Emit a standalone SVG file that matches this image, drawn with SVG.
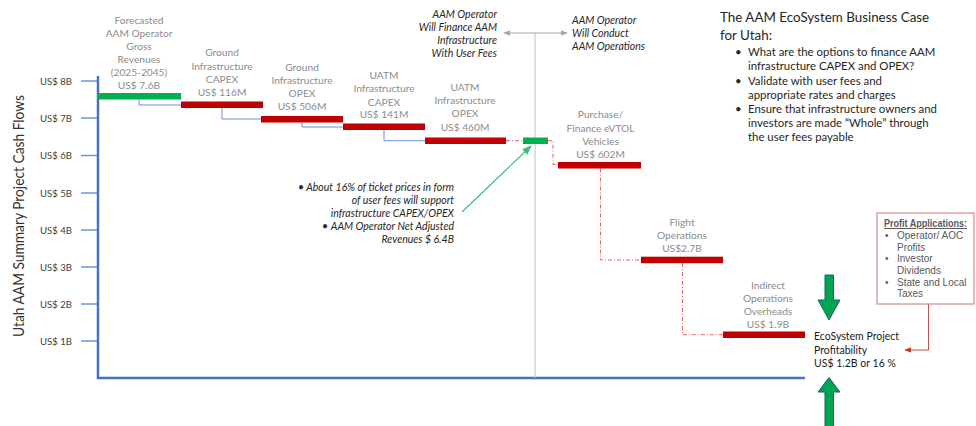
<svg xmlns="http://www.w3.org/2000/svg" width="976" height="426" viewBox="0 0 976 426">
  <style>
    text { font-family: Lato, "Liberation Sans", sans-serif; }
    .lbl { font-size: 10.2px; fill: #8c8c8c; text-anchor: middle; }
    .tick { font-size: 9.6px; fill: #404040; text-anchor: end; }
    .it { font-size: 10.5px; fill: #262626; font-style: italic; }
    .itr { text-anchor: end; }
    .body { font-size: 11.4px; fill: #262626; }
    .head { font-size: 13.4px; fill: #262626; }
    .box { font-family: "Liberation Sans", sans-serif; font-size: 10px; fill: #595959; }
    .red { fill: #c00000; }
    .green { fill: #00b050; }
    .blue-link { fill: none; stroke: #6d8fd0; stroke-width: 1; }
    .red-link { fill: none; stroke: #e06666; stroke-width: 1; stroke-dasharray: 4 2 1 2; }
    .axis { fill: none; stroke: #4472c4; stroke-width: 2.5; }
    .tickline { stroke: #6f94d6; stroke-width: 1.5; }
    .block { fill: #00a551; stroke: #1f5f6e; stroke-width: 1; }
  </style>
  <defs>
    <marker id="grayHead" viewBox="0 0 10 10" refX="9" refY="5" markerWidth="7" markerHeight="7" orient="auto-start-reverse">
      <path d="M0 1 L10 5 L0 9 Z" fill="#a6a6a6"/>
    </marker>
    <marker id="greenHead" viewBox="0 0 10 10" refX="9" refY="5" markerWidth="8" markerHeight="8" orient="auto">
      <path d="M0 1 L10 5 L0 9 Z" fill="#3cbf78"/>
    </marker>
    <marker id="redHead" viewBox="0 0 10 10" refX="9" refY="5" markerWidth="7" markerHeight="7" orient="auto">
      <path d="M0 1 L10 5 L0 9 Z" fill="#c0392b"/>
    </marker>
  </defs>

  <!-- axes, ticks and scale labels -->
  <g id="axes">
    <text transform="translate(24 216) rotate(-90)" text-anchor="middle" font-size="15" fill="#333" textLength="242" lengthAdjust="spacingAndGlyphs">Utah AAM Summary Project Cash Flows</text>
    <g>
      <line class="tickline" x1="81" y1="81" x2="98" y2="81"/>
      <line class="tickline" x1="81" y1="118" x2="98" y2="118"/>
      <line class="tickline" x1="81" y1="155.5" x2="98" y2="155.5"/>
      <line class="tickline" x1="81" y1="193" x2="98" y2="193"/>
      <line class="tickline" x1="81" y1="230" x2="98" y2="230"/>
      <line class="tickline" x1="81" y1="267" x2="98" y2="267"/>
      <line class="tickline" x1="81" y1="304" x2="98" y2="304"/>
      <line class="tickline" x1="81" y1="341" x2="98" y2="341"/>
    </g>
    <text class="tick" x="72" y="84.5">US$ 8B</text>
    <text class="tick" x="72" y="121.5">US$ 7B</text>
    <text class="tick" x="72" y="159">US$ 6B</text>
    <text class="tick" x="72" y="196.5">US$ 5B</text>
    <text class="tick" x="72" y="233.5">US$ 4B</text>
    <text class="tick" x="72" y="270.5">US$ 3B</text>
    <text class="tick" x="72" y="307.5">US$ 2B</text>
    <text class="tick" x="72" y="344.5">US$ 1B</text>
    <path class="axis" d="M98 76 V378 H805"/>
  </g>

  <!-- connectors -->
  <g id="connectors">
    <path class="blue-link" d="M139 99.5 V105 H181"/>
    <path class="blue-link" d="M222 108 V119 H261"/>
    <path class="blue-link" d="M302 122.5 V127 H343"/>
    <path class="blue-link" d="M384 130 V140.7 H425"/>
    <path class="red-link" d="M506 140.7 H523"/>
    <path class="red-link" d="M548 140.7 H553 V164.5 H558"/>
    <path class="red-link" d="M600.5 168.5 V260 H641"/>
    <path class="red-link" d="M682.5 263 V334.7 H723"/>
    <!-- split line between financing and operations -->
    <line x1="535" y1="33" x2="535" y2="378" stroke="#bfbfbf" stroke-width="1"/>
    <line x1="504" y1="33" x2="567" y2="33" stroke="#a6a6a6" stroke-width="1" marker-start="url(#grayHead)" marker-end="url(#grayHead)"/>
    <!-- note pointer -->
    <line x1="462" y1="212" x2="531" y2="146" stroke="#3cbf78" stroke-width="1.2" marker-end="url(#greenHead)"/>
    <!-- profit applications pointer -->
    <path d="M928.5 304 V350 H905" fill="none" stroke="#c0504d" stroke-width="1" marker-end="url(#redHead)"/>
  </g>

  <g id="gross-revenues">
    <rect class="green" x="98" y="93" width="83" height="6.5"/>
    <text class="lbl"><tspan x="139" y="24">Forecasted</tspan><tspan x="139" y="37">AAM Operator</tspan><tspan x="139" y="50">Gross</tspan><tspan x="139" y="63">Revenues</tspan><tspan x="139" y="76">(2025-2045)</tspan><tspan x="139" y="89">US$ 7.6B</tspan></text>
  </g>

  <g id="ground-capex">
    <rect class="red" x="181" y="101.5" width="82" height="6.5"/>
    <text class="lbl"><tspan x="222" y="56">Ground</tspan><tspan x="222" y="69.5">Infrastructure</tspan><tspan x="222" y="83">CAPEX</tspan><tspan x="222" y="95.5">US$ 116M</tspan></text>
  </g>

  <g id="ground-opex">
    <rect class="red" x="261" y="116" width="82" height="6.5"/>
    <text class="lbl"><tspan x="302" y="71">Ground</tspan><tspan x="302" y="84">Infrastructure</tspan><tspan x="302" y="97">OPEX</tspan><tspan x="302" y="110">US$ 506M</tspan></text>
  </g>

  <g id="uatm-capex">
    <rect class="red" x="343" y="123.5" width="82" height="6.5"/>
    <text class="lbl"><tspan x="384" y="79">UATM</tspan><tspan x="384" y="92">Infrastructure</tspan><tspan x="384" y="105.5">CAPEX</tspan><tspan x="384" y="118">US$ 141M</tspan></text>
  </g>

  <g id="uatm-opex">
    <rect class="red" x="425" y="137.5" width="81" height="6.5"/>
    <text class="lbl"><tspan x="465" y="91">UATM</tspan><tspan x="465" y="104">Infrastructure</tspan><tspan x="465" y="117">OPEX</tspan><tspan x="465" y="131">US$ 460M</tspan></text>
  </g>

  <g id="net-revenues">
    <rect class="green" x="523" y="137.5" width="25" height="6.5"/>
  </g>

  <g id="evtol-vehicles">
    <rect class="red" x="558" y="162" width="83" height="6.5"/>
    <text class="lbl"><tspan x="600.5" y="118">Purchase/</tspan><tspan x="600.5" y="132">Finance eVTOL</tspan><tspan x="600.5" y="145">Vehicles</tspan><tspan x="600.5" y="157.5">US$ 602M</tspan></text>
  </g>

  <g id="flight-operations">
    <rect class="red" x="641" y="256.7" width="82" height="6.5"/>
    <text class="lbl"><tspan x="682" y="226">Flight</tspan><tspan x="682" y="239">Operations</tspan><tspan x="682" y="252">US$2.7B</tspan></text>
  </g>

  <g id="indirect-overheads">
    <rect class="red" x="723" y="331.5" width="82" height="6.5"/>
    <text class="lbl"><tspan x="768" y="289">Indirect</tspan><tspan x="768" y="302">Operations</tspan><tspan x="768" y="315">Overheads</tspan><tspan x="768" y="327.5">US$ 1.9B</tspan></text>
  </g>

  <g id="finance-note">
    <text class="it itr"><tspan x="497" y="18">AAM Operator</tspan><tspan x="497" y="31">Will Finance AAM</tspan><tspan x="497" y="44">Infrastructure</tspan><tspan x="497" y="57">With User Fees</tspan></text>
  </g>

  <g id="operations-note">
    <text class="it"><tspan x="572" y="24">AAM Operator</tspan><tspan x="572" y="37">Will Conduct</tspan><tspan x="572" y="50">AAM Operations</tspan></text>
  </g>

  <g id="user-fee-note">
    <text class="it" x="298" y="190.5" font-style="normal">•</text>
    <text class="it itr"><tspan x="454" y="190.5">About 16% of ticket prices in form</tspan><tspan x="454" y="204">of user fees will support</tspan><tspan x="454" y="217">infrastructure CAPEX/OPEX</tspan><tspan x="454" y="230">AAM Operator Net Adjusted</tspan><tspan x="454" y="243">Revenues $ 6.4B</tspan></text>
    <text class="it" x="322" y="230" font-style="normal">•</text>
  </g>

  <g id="business-case">
    <text class="head"><tspan x="720" y="22">The AAM EcoSystem Business Case</tspan><tspan x="720" y="40">for Utah:</tspan></text>
    <text class="body"><tspan x="735" y="56">•</tspan><tspan x="735" y="85">•</tspan><tspan x="735" y="113">•</tspan></text>
    <text class="body"><tspan x="748" y="56">What are the options to finance AAM</tspan><tspan x="748" y="70">infrastructure CAPEX and OPEX?</tspan><tspan x="748" y="85">Validate with user fees and</tspan><tspan x="748" y="99">appropriate rates and charges</tspan><tspan x="748" y="113">Ensure that infrastructure owners and</tspan><tspan x="748" y="127">investors are made “Whole” through</tspan><tspan x="748" y="141">the user fees payable</tspan></text>
  </g>

  <g id="profit-applications">
    <rect x="877" y="213" width="97" height="91" fill="#fff" stroke="#d48a88" stroke-width="1.2"/>
    <text class="box" x="884" y="227" font-size="9.5" font-weight="bold" text-decoration="underline" textLength="83" lengthAdjust="spacingAndGlyphs">Profit Applications:</text>
    <text class="box"><tspan x="885" y="239">•</tspan><tspan x="885" y="262">•</tspan><tspan x="885" y="286">•</tspan></text>
    <text class="box"><tspan x="897" y="239">Operator/ AOC</tspan><tspan x="897" y="251">Profits</tspan><tspan x="897" y="262">Investor</tspan><tspan x="897" y="274">Dividends</tspan><tspan x="897" y="286">State and Local</tspan><tspan x="897" y="297">Taxes</tspan></text>
  </g>

  <g id="profitability">
    <path class="block" d="M825 275 H833.5 V300 H840 L829 320 L818 300 H825 Z"/>
    <path class="block" d="M829 377.5 L840 392 H833.5 V427 H825 V392 H818 Z"/>
    <text font-size="10.5" fill="#1a1a1a"><tspan x="814" y="340">EcoSystem Project</tspan><tspan x="814" y="353.5">Profitability</tspan><tspan x="814" y="367">US$ 1.2B or 16 %</tspan></text>
  </g>
</svg>
